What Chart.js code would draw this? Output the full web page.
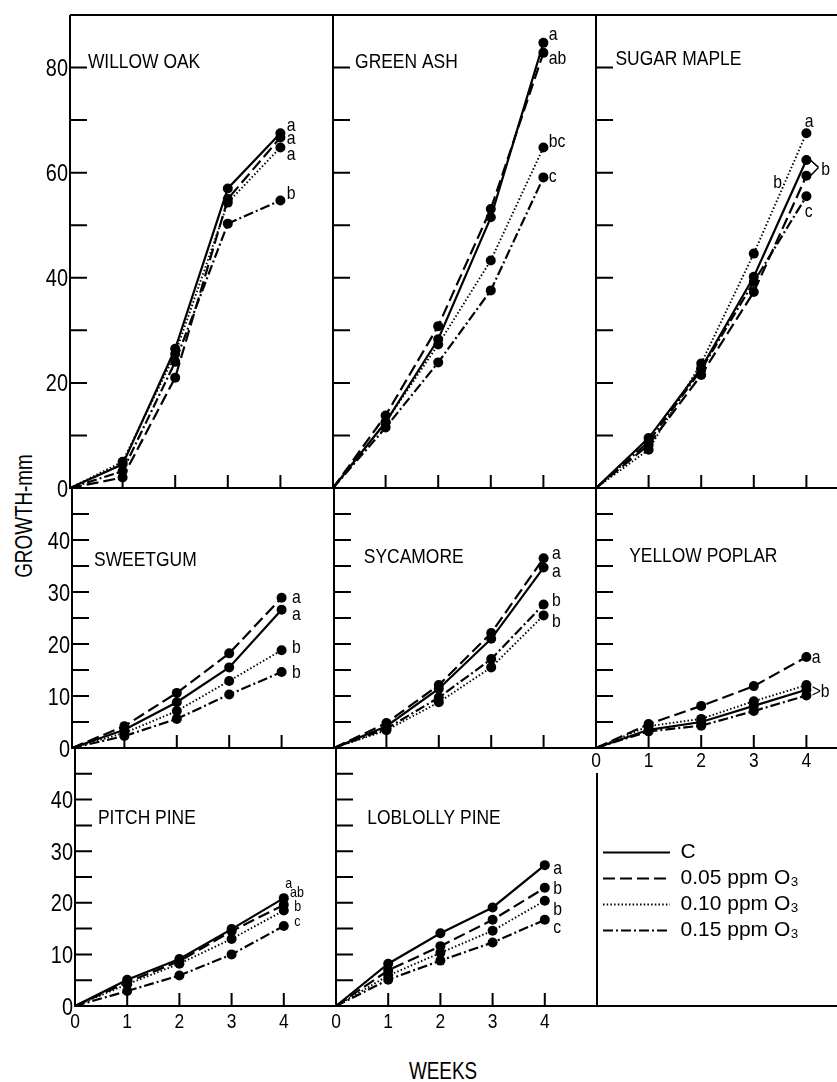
<!DOCTYPE html>
<html>
<head>
<meta charset="utf-8">
<script src="https://cdn.jsdelivr.net/npm/chart.js@4.4.1/dist/chart.umd.min.js"></script>
<style>
  body { margin: 0; background: #fff; }
  #wrap { position: relative; width: 837px; height: 1082px; overflow: hidden; }
  #wrap canvas { position: absolute; }
  .lbl { position: absolute; font-family: "Liberation Sans", Arial, sans-serif; font-size: 23px;
         color: #000; white-space: nowrap; line-height: 1; }
</style>
</head>
<body>
<div id="wrap">
  <div class="lbl" style="left:24px;top:516px;transform:translate(-50%,-50%) rotate(-90deg) scaleX(0.82)">GROWTH-mm</div>
  <div class="lbl" style="left:443px;top:1071px;transform:translate(-50%,-50%) scaleX(0.82)">WEEKS</div>
</div>
<script>
// data (growth in mm at weeks 0..4)
const weeks = [0, 1, 2, 3, 4];
const treatments = ["C", "0.05 ppm O₃", "0.10 ppm O₃", "0.15 ppm O₃"];

// series order: C, 0.05, 0.10, 0.15
const willowOak = [
  [0, 4.5, 26.5, 57.0, 67.5],
  [0, 2.0, 21.0, 55.0, 66.7],
  [0, 5.0, 25.5, 54.3, 64.8],
  [0, 3.2, 24.0, 50.3, 54.7]
];
const greenAsh = [
  [0, 12.5, 28.3, 51.5, 84.7],
  [0, 13.8, 30.8, 53.1, 82.8],
  [0, 12.5, 27.3, 43.3, 64.8],
  [0, 11.5, 23.9, 37.6, 59.1]
];
const sugarMaple = [
  [0, 9.5, 22.8, 40.2, 62.4],
  [0, 8.2, 21.5, 37.3, 59.4],
  [0, 7.3, 23.7, 44.6, 67.5],
  [0, 8.8, 22.5, 39.2, 55.5]
];
const sweetgum = [
  [0, 3.5, 8.8, 15.5, 26.6],
  [0, 4.2, 10.6, 18.2, 28.9],
  [0, 2.9, 7.1, 12.9, 18.8],
  [0, 2.3, 5.6, 10.3, 14.6]
];
const sycamore = [
  [0, 4.2, 11.4, 21.0, 34.7],
  [0, 4.8, 12.1, 22.1, 36.5],
  [0, 3.4, 8.8, 15.5, 25.5],
  [0, 3.7, 9.7, 17.1, 27.6]
];
const yellowPoplar = [
  [0, 3.5, 5.0, 8.1, 11.2],
  [0, 4.6, 8.1, 11.9, 17.5],
  [0, 4.2, 5.6, 9.0, 12.1],
  [0, 3.2, 4.3, 7.1, 10.1]
];
const pitchPine = [
  [0, 5.1, 9.1, 14.9, 20.9],
  [0, 4.6, 8.7, 14.5, 19.6],
  [0, 4.2, 8.2, 13.0, 18.5],
  [0, 2.9, 5.9, 10.0, 15.5]
];
const loblollyPine = [
  [0, 8.2, 14.1, 19.1, 27.3],
  [0, 6.9, 11.6, 16.7, 22.9],
  [0, 5.9, 10.3, 14.6, 20.4],
  [0, 5.1, 8.8, 12.3, 16.7]
];

const panelTitles = ["WILLOW OAK", "GREEN ASH", "SUGAR MAPLE", "SWEETGUM", "SYCAMORE",
                     "YELLOW POPLAR", "PITCH PINE", "LOBLOLLY PINE"];

// significance letters: [text, week, growth]
const willowOakTags = [["a", 4.12, 69.1], ["a", 4.12, 66.5], ["a", 4.12, 63.4], ["b", 4.12, 56.0]];
const greenAshTags = [["a", 4.1, 86.4], ["ab", 4.1, 81.8], ["bc", 4.1, 65.9], ["c", 4.1, 59.3]];
const sugarMapleTags = [["a", 3.97, 69.8], ["b", 3.37, 58.1], ["b", 4.28, 60.6], ["c", 3.97, 52.6]];
const sweetgumTags = [["a", 4.2, 28.9], ["a", 4.2, 25.8], ["b", 4.2, 19.4], ["b", 4.2, 14.6]];
const sycamoreTags = [["a", 4.16, 37.5], ["a", 4.16, 34.0], ["b", 4.16, 28.4], ["b", 4.16, 24.3]];
const yellowPoplarTags = [["a", 4.1, 17.5], [">b", 4.1, 10.9]];
const pitchPineTags = [["a", 4.03, 23.8], ["ab", 4.12, 21.9], ["b", 4.2, 19.2], ["c", 4.2, 16.3]];
const loblollyPineTags = [["a", 4.16, 26.7], ["b", 4.16, 22.9], ["b", 4.16, 18.8], ["c", 4.16, 15.2]];

const SX = 0.83; // condensed lettering
const FONT = '"Liberation Sans", Arial, sans-serif';

function txt(ctx, s, x, y, size, align) {
  ctx.save();
  ctx.font = size + "px " + FONT;
  ctx.textAlign = align || "left";
  ctx.textBaseline = "alphabetic";
  ctx.fillStyle = "#000";
  ctx.translate(x, y);
  ctx.scale(SX, 1);
  ctx.fillText(s, 0, 0);
  ctx.restore();
}

const lineStyles = [
  { dash: [], width: 2.2 },
  { dash: [12, 5], width: 2.2 },
  { dash: [1.5, 2.2], width: 1.9 },
  { dash: [10, 3, 2, 3], width: 2.2 }
];

// frame, inward ticks, tick labels, title and letters
const panelDeco = {
  id: "panelDeco",
  afterDraw(chart, args, o) {
    const { ctx, chartArea: a } = chart;
    const x = chart.scales.x, y = chart.scales.y;
    ctx.save();
    ctx.strokeStyle = "#000";
    ctx.lineWidth = 2;
    ctx.setLineDash([]);
    ctx.beginPath();
    ctx.moveTo(a.left, a.top); ctx.lineTo(a.right, a.top);
    ctx.moveTo(a.left, a.top); ctx.lineTo(a.left, a.bottom);
    ctx.lineTo(o.bottomTo || a.right, a.bottom);
    if (o.rightFrom != null) { ctx.moveTo(a.right, a.top + o.rightFrom); ctx.lineTo(a.right, a.bottom); }
    ctx.stroke();

    ctx.beginPath();
    y.ticks.forEach(t => {
      if (t.value <= y.min || t.value >= y.max) return;
      const py = y.getPixelForValue(t.value);
      ctx.moveTo(a.left, py); ctx.lineTo(a.left + 17, py);
    });
    x.ticks.forEach(t => {
      if (t.value <= x.min || t.value >= x.max) return;
      const px = x.getPixelForValue(t.value);
      ctx.moveTo(px, a.bottom); ctx.lineTo(px, a.bottom - 13);
    });
    ctx.stroke();

    if (o.yLabels) {
      y.ticks.forEach(t => {
        if (t.value % o.yLabels !== 0 || t.value >= y.max) return;
        txt(ctx, String(t.value), a.left - 2, y.getPixelForValue(t.value) + 8.6, 24, "right");
      });
    }
    if (o.xLabels) {
      x.ticks.forEach(t => {
        if (t.value >= x.max) return;
        txt(ctx, String(t.value), x.getPixelForValue(t.value), a.bottom + o.xLabels, 21, "center");
      });
    }

    txt(ctx, o.title, x.getPixelForValue(o.titleAt[0]), y.getPixelForValue(o.titleAt[1]), 21, "left");

    (o.tags || []).forEach(([s, wx, wy]) => {
      txt(ctx, s, x.getPixelForValue(wx), y.getPixelForValue(wy) + o.tagSize * 0.3, o.tagSize, "left");
    });

    if (o.bracket) {
      const vx = x.getPixelForValue(o.bracket.at[0]), vy = y.getPixelForValue(o.bracket.at[1]);
      ctx.beginPath();
      o.bracket.series.forEach(si => {
        const el = chart.getDatasetMeta(si).data[4];
        ctx.moveTo(el.x + 4, el.y); ctx.lineTo(vx, vy);
      });
      ctx.lineWidth = 1.5;
      ctx.stroke();
    }
    ctx.restore();
  }
};

const rowTop = [15, 488, 748];
const rowBottom = [488, 748, 1006];
const colLeft = [[70, 333, 596], [72, 334, 596], [75, 336, 597]];
const rowMax = [90, 50, 50];
const rowStep = [10, 5, 5];
const rowLabelStep = [20, 10, 10];

const panels = [
  { data: willowOak, tags: willowOakTags, r: 0, c: 0, titleAt: [0.34, 80] },
  { data: greenAsh, tags: greenAshTags, r: 0, c: 1, titleAt: [0.42, 80] },
  { data: sugarMaple, tags: sugarMapleTags, r: 0, c: 2, titleAt: [0.37, 80.5],
    bracket: { series: [0, 1], at: [4.23, 61] } },
  { data: sweetgum, tags: sweetgumTags, r: 1, c: 0, titleAt: [0.42, 35] },
  { data: sycamore, tags: sycamoreTags, r: 1, c: 1, titleAt: [0.57, 35.6] },
  { data: yellowPoplar, tags: yellowPoplarTags, r: 1, c: 2, titleAt: [0.63, 35.8], xLabels: 19 },
  { data: pitchPine, tags: pitchPineTags, r: 2, c: 0, titleAt: [0.44, 35.2], xLabels: 22, tagSize: 15 },
  { data: loblollyPine, tags: loblollyPineTags, r: 2, c: 1, titleAt: [0.6, 35.2], xLabels: 22, legendCell: true }
];

const wrap = document.getElementById("wrap");

panels.forEach((p, i) => {
  const left = colLeft[p.r][p.c];
  const right = p.c < 2 ? colLeft[p.r][p.c + 1] : left + 263;
  const top = rowTop[p.r], bottom = rowBottom[p.r];
  const ML = p.c === 0 ? left : 12;
  const MT = p.r === 0 ? top : 12;
  const MR = p.legendCell ? 837 - right : 30;
  const MB = 40;

  const canvas = document.createElement("canvas");
  canvas.width = right - left + ML + MR;
  canvas.height = bottom - top + MT + MB;
  canvas.style.left = (left - ML) + "px";
  canvas.style.top = (top - MT) + "px";
  wrap.appendChild(canvas);

  new Chart(canvas.getContext("2d"), {
    type: "line",
    data: {
      datasets: p.data.map((vals, k) => ({
        label: treatments[k],
        data: weeks.map((w, j) => ({ x: w, y: vals[j] })),
        borderColor: "#000",
        borderWidth: lineStyles[k].width,
        borderDash: lineStyles[k].dash,
        pointRadius: weeks.map(w => (w === 0 ? 0 : 5)),
        pointBackgroundColor: "#000",
        pointBorderWidth: 0,
        tension: 0,
        clip: false
      }))
    },
    options: {
      responsive: false,
      animation: false,
      devicePixelRatio: 1,
      layout: { padding: { left: ML, top: MT, right: MR, bottom: MB } },
      scales: {
        x: { type: "linear", min: 0, max: 5, display: false, ticks: { stepSize: 1 } },
        y: { type: "linear", min: 0, max: rowMax[p.r], display: false, ticks: { stepSize: rowStep[p.r] } }
      },
      plugins: {
        legend: { display: false },
        tooltip: { enabled: false },
        panelDeco: {
          title: panelTitles[i],
          titleAt: p.titleAt,
          tags: p.tags,
          tagSize: p.tagSize || 19,
          bracket: p.bracket,
          yLabels: p.c === 0 ? rowLabelStep[p.r] : 0,
          xLabels: p.xLabels || 0,
          rightFrom: p.legendCell ? 25 : null,
          bottomTo: p.legendCell ? 837 - left + ML : null
        }
      }
    },
    plugins: [panelDeco]
  });
});

// legend cell (bottom right)
const legCanvas = document.createElement("canvas");
legCanvas.width = 240;
legCanvas.height = 330;
legCanvas.style.left = "597px";
legCanvas.style.top = "760px";
wrap.appendChild(legCanvas);
new Chart(legCanvas.getContext("2d"), {
  type: "line",
  data: {
    datasets: treatments.map((t, k) => ({
      label: t,
      data: [],
      borderColor: "#000",
      borderWidth: lineStyles[k].width,
      borderDash: lineStyles[k].dash
    }))
  },
  options: {
    responsive: false,
    animation: false,
    devicePixelRatio: 1,
    layout: { padding: { top: 77, left: 1 } },
    scales: { x: { display: false }, y: { display: false } },
    plugins: {
      tooltip: { enabled: false },
      legend: {
        position: "top",
        align: "start",
        labels: {
          usePointStyle: true,
          pointStyleWidth: 67,
          boxHeight: 10,
          padding: 5,
          color: "#000",
          font: { family: FONT, size: 21 },
          generateLabels: chart => chart.data.datasets.map((d, i) => ({
            text: d.label,
            fillStyle: "#000",
            strokeStyle: "#000",
            fontColor: "#000",
            lineWidth: d.borderWidth,
            lineDash: d.borderDash,
            pointStyle: "line",
            datasetIndex: i,
            hidden: false
          }))
        }
      }
    }
  }
});
</script>
</body>
</html>
